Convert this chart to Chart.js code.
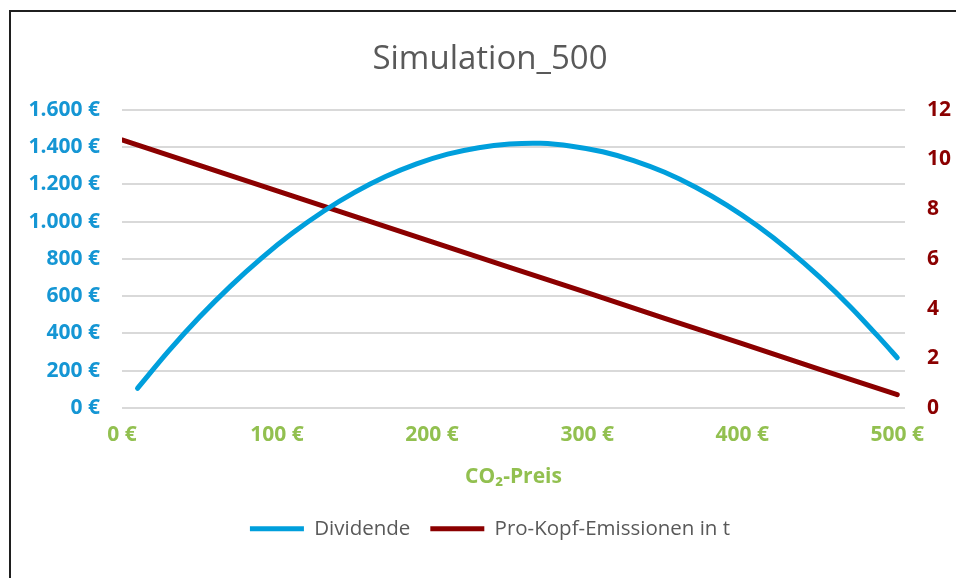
<!DOCTYPE html>
<html>
<head>
<meta charset="utf-8">
<script src="https://cdn.jsdelivr.net/npm/chart.js@4.4.1/dist/chart.umd.min.js"></script>
<style>
  html, body { margin: 0; padding: 0; background: #fff; }
  #wrap { position: relative; width: 956px; height: 578px; overflow: hidden; }
  #frame {
    position: absolute; left: 9px; top: 10px; width: 980px; height: 600px;
    border-left: 2px solid #1f1f1f; border-top: 2px solid #1f1f1f;
  }
  canvas { position: absolute; left: 0; top: 0; }
</style>
</head>
<body>
<div id="wrap">
  <div id="frame"></div>
  <canvas id="chart" width="980" height="578"></canvas>
</div>
<script>
// CO2 price (x) for each series
const priceDividende = [10, 30, 50, 70, 90, 110, 130, 150, 170, 190, 210, 230, 250, 270, 290, 310, 330, 350, 370, 390, 410, 430, 450, 470, 490, 500];
const dividende = [106, 305, 488, 654, 804, 938, 1055, 1156, 1241, 1309, 1361, 1396, 1415, 1419, 1404, 1374, 1327, 1264, 1184, 1088, 976, 847, 702, 541, 363, 270];

const priceEmission = [0, 50, 100, 150, 200, 250, 300, 350, 400, 450, 500];
const emissionen = [10.78, 9.76, 8.73, 7.71, 6.68, 5.66, 4.64, 3.61, 2.59, 1.56, 0.54];

const xTicks = [0, 100, 200, 300, 400, 500];

const BLUE = '#009fdc';
const BLUE_TXT = '#1596d4';
const RED = '#8b0000';
const GREEN = '#92c050';
const GREY = '#595959';
const FONT = "'Open Sans', sans-serif";

const toPoints = (xs, ys) => xs.map((x, i) => ({ x: x, y: ys[i] }));
const euro = (v) => v.toLocaleString('de-DE') + ' €';

new Chart(document.getElementById('chart'), {
    type: 'line',
    data: {
        datasets: [{
            label: 'Dividende',
            data: toPoints(priceDividende, dividende),
            yAxisID: 'y',
            borderColor: BLUE,
            backgroundColor: BLUE,
            borderWidth: 5,
            borderCapStyle: 'round',
            pointRadius: 0,
            tension: 0.3
        }, {
            label: 'Pro-Kopf-Emissionen in t',
            data: toPoints(priceEmission, emissionen),
            yAxisID: 'y1',
            borderColor: RED,
            backgroundColor: RED,
            borderWidth: 5,
            borderCapStyle: 'round',
            pointRadius: 0,
            tension: 0
        }]
    },
    options: {
        responsive: false,
        animation: false,
        layout: { padding: { left: 0, right: 0, top: 0, bottom: 29 } },
        plugins: {
            title: {
                display: true,
                text: 'Simulation_500',
                color: GREY,
                font: { family: FONT, size: 33, weight: 'normal' },
                padding: { top: 40, bottom: 30 }
            },
            legend: {
                position: 'bottom',
                labels: {
                    usePointStyle: true,
                    pointStyle: 'line',
                    pointStyleWidth: 54,
                    color: GREY,
                    font: { family: FONT, size: 20.5 },
                    padding: 20
                }
            },
            tooltip: { enabled: false }
        },
        scales: {
            x: {
                type: 'linear',
                min: 0,
                max: 505,
                grid: { display: false },
                border: { display: false },
                afterBuildTicks: (scale) => {
                    scale.ticks = xTicks.map(v => ({ value: v }));
                },
                ticks: {
                    color: GREEN,
                    font: { family: FONT, size: 21, weight: 'bold' },
                    padding: 6,
                    maxRotation: 0,
                    callback: (v) => euro(v)
                },
                title: {
                    display: true,
                    text: 'CO₂-Preis',
                    color: GREEN,
                    font: { family: FONT, size: 21, weight: 'bold' },
                    padding: { top: 11, bottom: 9 }
                }
            },
            y: {
                position: 'left',
                min: 0,
                max: 1600,
                afterFit: (scale) => { scale.width = 122; },
                grid: { color: '#d9d9d9', lineWidth: 2, drawTicks: false },
                border: { display: false },
                ticks: {
                    stepSize: 200,
                    color: BLUE_TXT,
                    font: { family: FONT, size: 21, weight: 'bold' },
                    padding: 22,
                    callback: (v) => euro(v)
                }
            },
            y1: {
                position: 'right',
                min: 0,
                max: 12,
                afterFit: (scale) => { scale.width = 75; },
                grid: { display: false, drawTicks: false },
                border: { display: false },
                ticks: {
                    stepSize: 2,
                    color: RED,
                    font: { family: FONT, size: 21, weight: 'bold' },
                    padding: 22
                }
            }
        }
    }
});
</script>
</body>
</html>
